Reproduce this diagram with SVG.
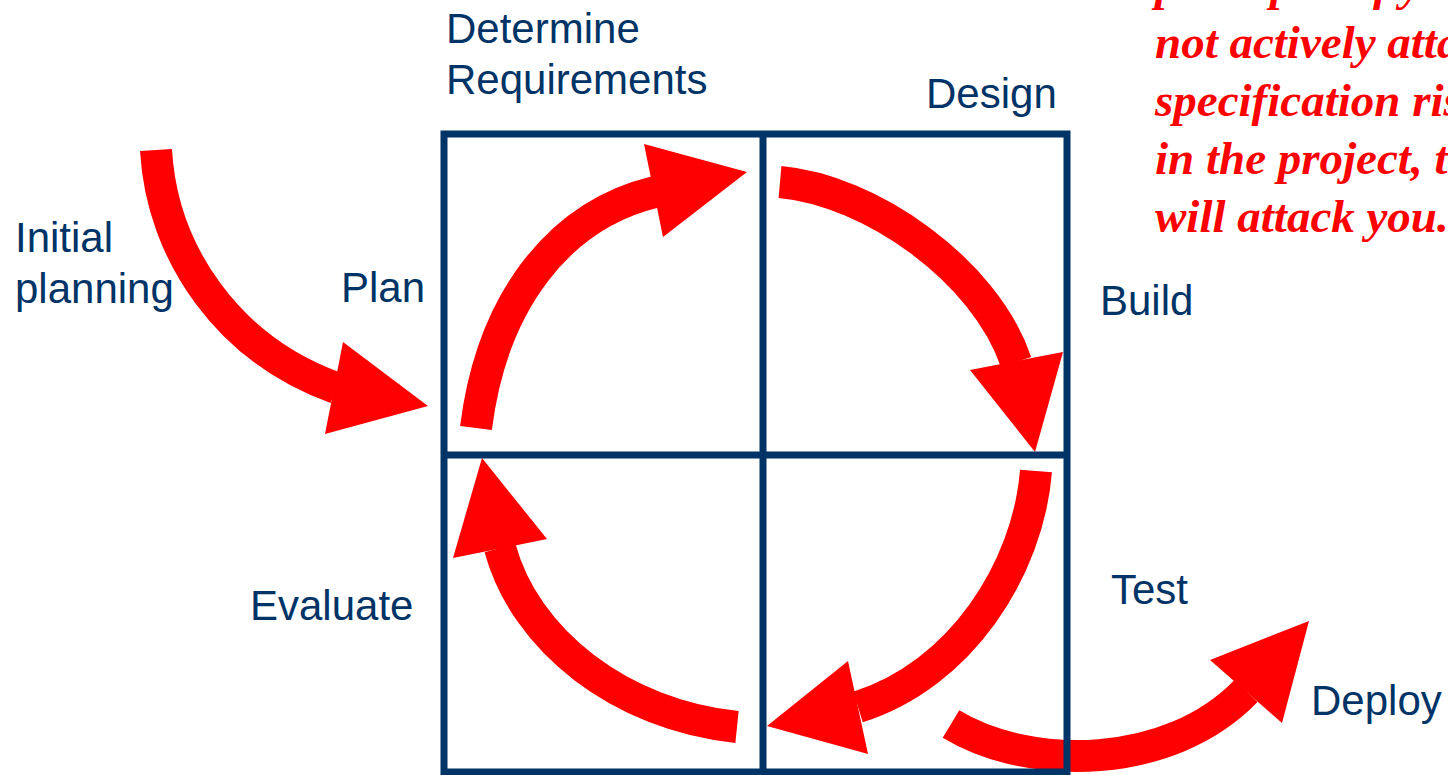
<svg xmlns="http://www.w3.org/2000/svg" width="1448" height="775" viewBox="0 0 1448 775">
<style>
.lbl{font-family:"Liberation Sans",Arial,sans-serif;font-size:42px;fill:#003366}
.quote{font-family:"Liberation Serif","Times New Roman",serif;font-size:47px;font-weight:bold;font-style:italic;fill:#FF0000}
.band{fill:none;stroke:#FF0000;stroke-width:32;stroke-linecap:butt}
.head{fill:#FF0000}
.grid{fill:none;stroke:#003366;stroke-width:7}
</style>
<rect width="1448" height="775" fill="#FFFFFF"/>
<g id="quote">
<text class="quote" x="1155" y="0">principle: If you</text>
<text class="quote" x="1155" y="58">not actively attack</text>
<text class="quote" x="1155" y="116">specification risks</text>
<text class="quote" x="1155" y="174">in the project, they</text>
<text class="quote" x="1155" y="232">will attack you.</text>
</g>
<g id="connectors">
<g id="arrow-initial">
<path class="band" d="M156,150 C162,255 230,350 336,388"/>
<polygon class="head" points="343,342 428,406 325,434"/>
</g>
<g id="arrow-plan-req">
<path class="band" d="M476,428 C492,300 560,215 655,192"/>
<polygon class="head" points="644,144 747,172 663,237"/>
</g>
<g id="arrow-design-build">
<path class="band" d="M780,182 C870,190 985,270 1016,362"/>
<polygon class="head" points="970,370 1035,452 1063,352"/>
</g>
<g id="arrow-build-test">
<path class="band" d="M1036,471 C1028,570 960,675 858,707"/>
<polygon class="head" points="848,661 767,726 868,754"/>
</g>
<g id="arrow-test-evaluate">
<path class="band" d="M737,727 C620,715 525,640 500,548"/>
<polygon class="head" points="547,539 482,458 453,558"/>
</g>
<g id="arrow-deploy">
<path class="band" d="M951,724 C1030,772 1170,770 1246,691"/>
<polygon class="head" points="1210,660 1309,621 1282,723"/>
</g>
</g>
<g id="grid">
<rect class="grid" x="444" y="134" width="623" height="638"/>
<line class="grid" x1="763" y1="134" x2="763" y2="772"/>
<line class="grid" x1="444" y1="455" x2="1067" y2="455"/>
</g>
<g id="node-determine-requirements">
<text class="lbl" x="446" y="43">Determine</text>
<text class="lbl" x="446" y="94">Requirements</text>
</g>
<g id="node-design"><text class="lbl" x="926" y="108">Design</text></g>
<g id="node-initial-planning">
<text class="lbl" x="15" y="252">Initial</text>
<text class="lbl" x="15" y="303">planning</text>
</g>
<g id="node-plan"><text class="lbl" x="341" y="302">Plan</text></g>
<g id="node-build"><text class="lbl" x="1100" y="315">Build</text></g>
<g id="node-test"><text class="lbl" x="1111" y="604">Test</text></g>
<g id="node-evaluate"><text class="lbl" x="250" y="620">Evaluate</text></g>
<g id="node-deploy"><text class="lbl" x="1311" y="715">Deploy</text></g>
</svg>
